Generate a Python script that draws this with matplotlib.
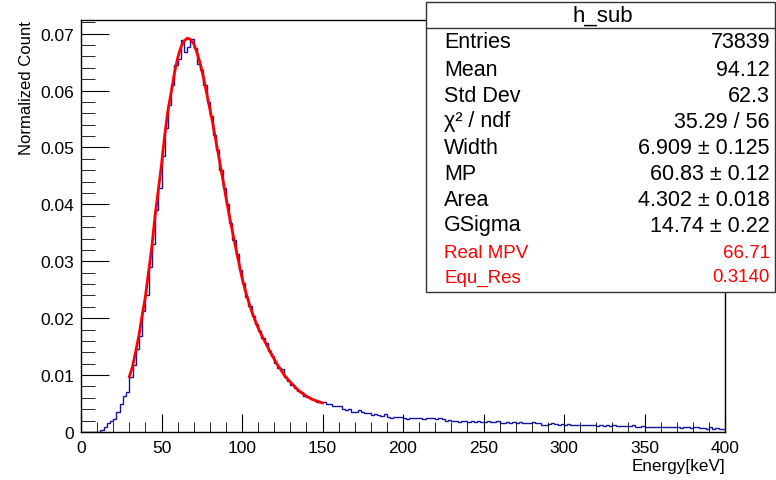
import numpy as np
import matplotlib
matplotlib.use("Agg")
import matplotlib.pyplot as plt
from matplotlib.ticker import MultipleLocator, FuncFormatter
from matplotlib.patches import Rectangle
from matplotlib.lines import Line2D

plt.rcParams['font.family'] = ['Liberation Sans', 'DejaVu Sans']

# histogram h_sub: 200 bins of 2 keV from 0 to 400 (normalized counts)
bin_edges_lo, bin_edges_hi, n_bins = 0.0, 400.0, 200
counts = [
    0, 0, 0, 0, 0, 0, 0.0004, 0.0009, 0.0015, 0.0019,
    0.0023, 0.0036, 0.0050, 0.0064, 0.0070, 0.0097, 0.0118, 0.0146, 0.0168, 0.0212,
    0.0240, 0.0290, 0.0330, 0.0390, 0.0428, 0.0485, 0.0535, 0.0575, 0.0610, 0.0645,
    0.0655, 0.0688, 0.0667, 0.0676, 0.0690, 0.0675, 0.0646, 0.0636, 0.0610, 0.0580,
    0.0556, 0.0522, 0.0495, 0.0460, 0.0428, 0.0400, 0.0368, 0.0338, 0.0312, 0.0285,
    0.0262, 0.0238, 0.0222, 0.0204, 0.0190, 0.0178, 0.0165, 0.0157, 0.0143, 0.0134,
    0.0122, 0.0112, 0.0110, 0.0097, 0.0090, 0.0083, 0.0078, 0.0072, 0.0070, 0.0064,
    0.0062, 0.0058, 0.0056, 0.0053, 0.0052, 0.0052, 0.0050, 0.0049, 0.0045, 0.0046,
    0.0045, 0.0041, 0.0039, 0.0040, 0.0036, 0.0036, 0.0038, 0.0035, 0.0033, 0.0034,
    0.0030, 0.0031, 0.0030, 0.0028, 0.0031, 0.0027, 0.0025, 0.0026, 0.0027, 0.0026,
    0.0024, 0.0023, 0.0025, 0.0024, 0.0025, 0.0024, 0.0023, 0.0025, 0.0024, 0.0024,
    0.0023, 0.0024, 0.0022, 0.0020, 0.0021, 0.0019, 0.0020, 0.0018, 0.0020, 0.0019,
    0.0018, 0.0020, 0.0017, 0.0019, 0.0018, 0.0018, 0.0019, 0.0017, 0.0018, 0.0019,
    0.0015, 0.0016, 0.0017, 0.0016, 0.0017, 0.0016, 0.0017, 0.0016, 0.0015, 0.0016,
    0.0017, 0.0016, 0.0015, 0.0013, 0.0013, 0.0014, 0.0016, 0.0014, 0.0013, 0.0014,
    0.0013, 0.0014, 0.0013, 0.0012, 0.0013, 0.0013, 0.0012, 0.0013, 0.0012, 0.0012,
    0.0011, 0.0012, 0.0011, 0.0012, 0.0011, 0.0012, 0.0011, 0.0010, 0.0011, 0.0011,
    0.0010, 0.0012, 0.0009, 0.0009, 0.0010, 0.0008, 0.0009, 0.0008, 0.0009, 0.0009,
    0.0008, 0.0009, 0.0008, 0.0008, 0.0009, 0.0008, 0.0007, 0.0008, 0.0008, 0.0007,
    0.0008, 0.0008, 0.0007, 0.0007, 0.0006, 0.0008, 0.0006, 0.0007, 0.0005, 0.0005,
]
assert len(counts) == n_bins

# langaus fit curve (30 - 150 keV)
fit_x = [30, 32, 34, 36, 38, 40, 42, 44, 46, 48, 50, 52, 54, 56, 58, 60,
         62, 64, 66, 68, 70, 72, 74, 76, 78, 80, 82, 84, 86, 88, 90, 92,
         94, 96, 98, 100, 102, 104, 106, 108, 110, 112, 114, 116, 118, 120,
         122, 124, 126, 128, 130, 132, 134, 136, 138, 140, 142, 144, 146,
         148, 150]
fit_y = [0.0097, 0.0115, 0.0142, 0.0170, 0.0205, 0.0238, 0.0282, 0.0325,
         0.0380, 0.0425, 0.0470, 0.0522, 0.0565, 0.0597, 0.0630, 0.0657,
         0.0676, 0.0687, 0.0692, 0.0690, 0.0682, 0.0667, 0.0648, 0.0624,
         0.0596, 0.0568, 0.0540, 0.0508, 0.0477, 0.0445, 0.0413, 0.0382,
         0.0353, 0.0325, 0.0298, 0.0271, 0.0249, 0.0230, 0.0212, 0.0197,
         0.0183, 0.0171, 0.0160, 0.0149, 0.0138, 0.0128, 0.0118, 0.0110,
         0.0101, 0.0094, 0.0088, 0.0082, 0.0076, 0.0071, 0.0067, 0.0063,
         0.0060, 0.0057, 0.0055, 0.0053, 0.0051]

stat_title = "h_sub"
stat_labels = ["Entries", "Mean", "Std Dev", "χ² / ndf", "Width", "MP", "Area", "GSigma"]
stat_values = ["73839", "94.12", "62.3", "35.29 / 56", "6.909 ± 0.125",
               "60.83 ± 0.12", "4.302 ± 0.018", "14.74 ± 0.22"]
extra_labels = ["Real MPV", "Equ_Res"]
extra_values = ["66.71", "0.3140"]

W, H = 776, 481
fig = plt.figure(figsize=(W / 100, H / 100), dpi=100)
ax = fig.add_axes([81 / W, 1 - 433 / H, (725 - 81) / W, (433 - 21) / H])

edges = np.linspace(bin_edges_lo, bin_edges_hi, n_bins + 1)
ax.stairs(counts, edges, color="#14149e", lw=1.0, baseline=None)
ax.plot(fit_x, fit_y, color="#ff0000", lw=2.0)

ax.set_xlim(0, 400)
ax.set_ylim(0, 0.0724)
ax.xaxis.set_major_locator(MultipleLocator(50))
ax.xaxis.set_minor_locator(MultipleLocator(10))
ax.yaxis.set_major_locator(MultipleLocator(0.01))
ax.yaxis.set_minor_locator(MultipleLocator(0.002))
ax.yaxis.set_major_formatter(FuncFormatter(lambda v, p: "0" if abs(v) < 1e-9 else f"{v:.2f}"))
ax.tick_params(which="both", direction="in", top=False, right=False, labelsize=12.5, color="black")
ax.tick_params(axis="x", which="major", length=13, pad=6)
ax.tick_params(axis="x", which="minor", length=7)
ax.tick_params(axis="y", which="major", length=20, pad=5)
ax.tick_params(axis="y", which="minor", length=10)
for s in ax.spines.values():
    s.set_linewidth(1.0)

fig.text(27 / W, 1 - 21 / H, "Normalized Count", rotation=90, ha="center", va="top", fontsize=12)
fig.text(725 / W, 1 - 466 / H, "Energy[keV]", ha="right", va="center", fontsize=12.3)

# stats box
bx0, bx1, by0, by1 = 426, 775, 3, 293
fig.patches.append(Rectangle((bx0 / W, 1 - by1 / H), (bx1 - bx0) / W, (by1 - by0) / H,
                             transform=fig.transFigure, facecolor="white",
                             edgecolor="#333333", lw=1.0, zorder=5))
fig.lines.append(Line2D([bx0 / W, bx1 / W], [1 - 29 / H, 1 - 29 / H],
                        transform=fig.transFigure, color="#333333", lw=1.0, zorder=6))
fig.text(603 / W, 1 - 16 / H, stat_title, ha="center", va="center", fontsize=16, zorder=7)
row_y = [43, 70, 96, 122, 148, 174, 200, 226]
for lab, val, yy in zip(stat_labels, stat_values, row_y):
    fig.text(444 / W, 1 - yy / H, lab, ha="left", va="center", fontsize=15.5, zorder=7)
    fig.text(770 / W, 1 - yy / H, val, ha="right", va="center", fontsize=15.5, zorder=7)
for lab, val, yy in zip(extra_labels, extra_values, [253, 278]):
    fig.text(444 / W, 1 - yy / H, lab, ha="left", va="center", fontsize=13.5, color="#ff0000", zorder=7)
    fig.text(770 / W, 1 - yy / H, val, ha="right", va="center", fontsize=13.5, color="#ff0000", zorder=7)

fig.savefig("out.png", dpi=100)
